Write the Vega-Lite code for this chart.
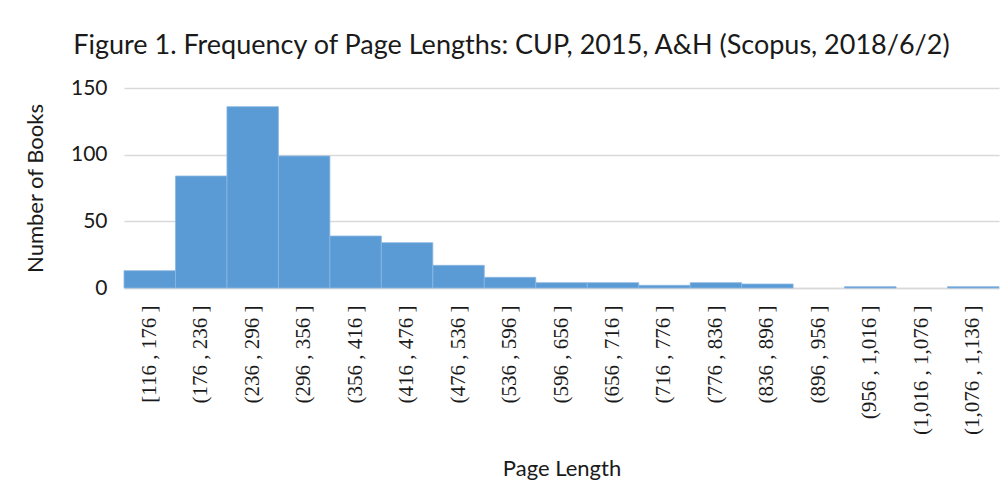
{
  "$schema": "https://vega.github.io/schema/vega-lite/v6.json",
  "autosize": "none",
  "width": 875,
  "height": 200,
  "padding": {"left": 124, "top": 88, "right": 6, "bottom": 205},
  "background": "white",
  "config": {"view": {"stroke": null}},
  "title": {
    "text": "Figure 1. Frequency of Page Lengths: CUP, 2015, A&H (Scopus, 2018/6/2)",
    "font": "Lato",
    "fontSize": 27,
    "fontWeight": "normal",
    "color": "#1a1a1a",
    "anchor": "middle",
    "dx": -50,
    "offset": 17
  },
  "data": {
    "values": [
      {"bin": "[116 , 176 ]", "count": 13},
      {"bin": "(176 , 236 ]", "count": 84},
      {"bin": "(236 , 296 ]", "count": 136},
      {"bin": "(296 , 356 ]", "count": 99},
      {"bin": "(356 , 416 ]", "count": 39},
      {"bin": "(416 , 476 ]", "count": 34},
      {"bin": "(476 , 536 ]", "count": 17},
      {"bin": "(536 , 596 ]", "count": 8},
      {"bin": "(596 , 656 ]", "count": 4},
      {"bin": "(656 , 716 ]", "count": 4},
      {"bin": "(716 , 776 ]", "count": 2},
      {"bin": "(776 , 836 ]", "count": 4},
      {"bin": "(836 , 896 ]", "count": 3},
      {"bin": "(896 , 956 ]", "count": 0},
      {"bin": "(956 , 1,016 ]", "count": 1},
      {"bin": "(1,016 , 1,076 ]", "count": 0},
      {"bin": "(1,076 , 1,136 ]", "count": 1}
    ]
  },
  "mark": {"type": "bar", "color": "#5B9BD5", "strokeWidth": 0.8},
  "encoding": {
    "stroke": {
      "condition": {"test": "datum.count > 0", "value": "#8AB6E2"},
      "value": null
    },
    "x": {
      "field": "bin",
      "type": "nominal",
      "sort": null,
      "scale": {"paddingInner": 0, "paddingOuter": 0},
      "axis": {
        "title": "Page Length",
        "titleFont": "Lato",
        "titleFontSize": 22,
        "titleFontWeight": "normal",
        "titleColor": "#1a1a1a",
        "titlePadding": 24,
        "labelAngle": -90,
        "labelFont": "Liberation Serif",
        "labelFontSize": 21,
        "labelColor": "#1a1a1a",
        "labelPadding": 17,
        "ticks": false,
        "domainColor": "#D9D9D9",
        "domainWidth": 1.3
      }
    },
    "y": {
      "field": "count",
      "type": "quantitative",
      "scale": {"domain": [0, 150]},
      "axis": {
        "title": "Number of Books",
        "titleFont": "Lato",
        "titleFontSize": 22,
        "titleFontWeight": "normal",
        "titleColor": "#1a1a1a",
        "titlePadding": 23,
        "values": [0, 50, 100, 150],
        "labelFont": "Lato",
        "labelFontSize": 21,
        "labelColor": "#1a1a1a",
        "labelPadding": 17,
        "ticks": false,
        "domain": false,
        "gridColor": "#D9D9D9",
        "gridWidth": 1.3
      }
    }
  }
}
